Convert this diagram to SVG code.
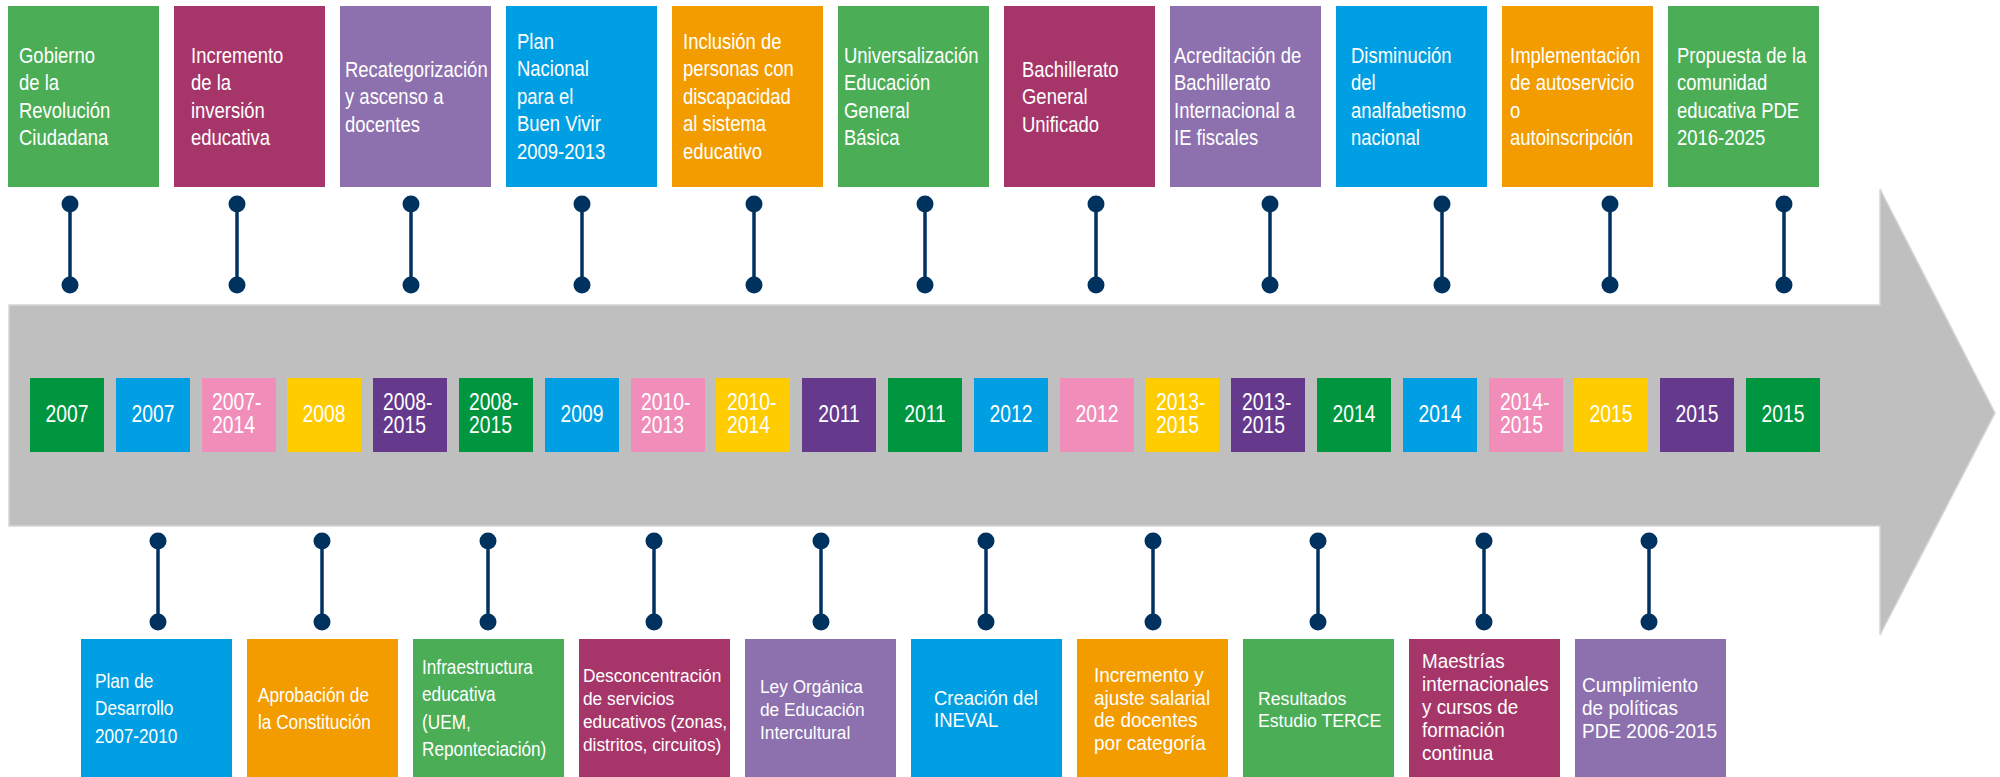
<svg xmlns="http://www.w3.org/2000/svg" width="2000" height="777" viewBox="0 0 2000 777">
<style>
.bg{fill:#ffffff}
.gr{fill:#4bae57}.ma{fill:#a6366a}.la{fill:#8d70ae}.bl{fill:#009fe3}.or{fill:#f39c00}
.yg{fill:#009640}.yb{fill:#009fe3}.yp{fill:#f08eb9}.yy{fill:#ffcc00}.yv{fill:#653a8d}
text{font-family:"Liberation Sans",Arial,sans-serif;fill:#ffffff}
.t{font-size:22px}
.y{font-size:23px}
.yc{font-size:23px;text-anchor:middle}
.b{font-size:21px}
.conn line{stroke:#00325f;stroke-width:3.5}
.conn circle{fill:#00325f}
</style>
<rect class="bg" x="0" y="0" width="2000" height="777"/>
<path id="timeline-arrow" d="M9,305 H1880 V189 L1995,413 L1880,635 V526 H9 Z" fill="#bfbfbf" stroke="#d6d6d6" stroke-width="1.5"/>

<g id="connectors" class="conn">
<line x1="70" y1="204" x2="70" y2="285"/><circle cx="70" cy="204" r="8.5"/><circle cx="70" cy="285" r="8.5"/>
<line x1="237" y1="204" x2="237" y2="285"/><circle cx="237" cy="204" r="8.5"/><circle cx="237" cy="285" r="8.5"/>
<line x1="411" y1="204" x2="411" y2="285"/><circle cx="411" cy="204" r="8.5"/><circle cx="411" cy="285" r="8.5"/>
<line x1="582" y1="204" x2="582" y2="285"/><circle cx="582" cy="204" r="8.5"/><circle cx="582" cy="285" r="8.5"/>
<line x1="754" y1="204" x2="754" y2="285"/><circle cx="754" cy="204" r="8.5"/><circle cx="754" cy="285" r="8.5"/>
<line x1="925" y1="204" x2="925" y2="285"/><circle cx="925" cy="204" r="8.5"/><circle cx="925" cy="285" r="8.5"/>
<line x1="1096" y1="204" x2="1096" y2="285"/><circle cx="1096" cy="204" r="8.5"/><circle cx="1096" cy="285" r="8.5"/>
<line x1="1270" y1="204" x2="1270" y2="285"/><circle cx="1270" cy="204" r="8.5"/><circle cx="1270" cy="285" r="8.5"/>
<line x1="1442" y1="204" x2="1442" y2="285"/><circle cx="1442" cy="204" r="8.5"/><circle cx="1442" cy="285" r="8.5"/>
<line x1="1610" y1="204" x2="1610" y2="285"/><circle cx="1610" cy="204" r="8.5"/><circle cx="1610" cy="285" r="8.5"/>
<line x1="1784" y1="204" x2="1784" y2="285"/><circle cx="1784" cy="204" r="8.5"/><circle cx="1784" cy="285" r="8.5"/>

<line x1="158" y1="541" x2="158" y2="622"/><circle cx="158" cy="541" r="8.5"/><circle cx="158" cy="622" r="8.5"/>
<line x1="322" y1="541" x2="322" y2="622"/><circle cx="322" cy="541" r="8.5"/><circle cx="322" cy="622" r="8.5"/>
<line x1="488" y1="541" x2="488" y2="622"/><circle cx="488" cy="541" r="8.5"/><circle cx="488" cy="622" r="8.5"/>
<line x1="654" y1="541" x2="654" y2="622"/><circle cx="654" cy="541" r="8.5"/><circle cx="654" cy="622" r="8.5"/>
<line x1="821" y1="541" x2="821" y2="622"/><circle cx="821" cy="541" r="8.5"/><circle cx="821" cy="622" r="8.5"/>
<line x1="986" y1="541" x2="986" y2="622"/><circle cx="986" cy="541" r="8.5"/><circle cx="986" cy="622" r="8.5"/>
<line x1="1153" y1="541" x2="1153" y2="622"/><circle cx="1153" cy="541" r="8.5"/><circle cx="1153" cy="622" r="8.5"/>
<line x1="1318" y1="541" x2="1318" y2="622"/><circle cx="1318" cy="541" r="8.5"/><circle cx="1318" cy="622" r="8.5"/>
<line x1="1484" y1="541" x2="1484" y2="622"/><circle cx="1484" cy="541" r="8.5"/><circle cx="1484" cy="622" r="8.5"/>
<line x1="1649" y1="541" x2="1649" y2="622"/><circle cx="1649" cy="541" r="8.5"/><circle cx="1649" cy="622" r="8.5"/>
</g>

<!-- top event boxes -->
<g id="top-gobierno"><rect class="gr" x="8" y="6" width="151" height="181"/>
<text class="t" transform="matrix(0.84 0 0 1 19 0)" y="63"><tspan x="0">Gobierno</tspan><tspan x="0" dy="27.5">de la</tspan><tspan x="0" dy="27.5">Revolución</tspan><tspan x="0" dy="27.5">Ciudadana</tspan></text></g>
<g id="top-incremento"><rect class="ma" x="174" y="6" width="151" height="181"/>
<text class="t" transform="matrix(0.84 0 0 1 191 0)" y="63"><tspan x="0">Incremento</tspan><tspan x="0" dy="27.5">de la</tspan><tspan x="0" dy="27.5">inversión</tspan><tspan x="0" dy="27.5">educativa</tspan></text></g>
<g id="top-recategorizacion"><rect class="la" x="340" y="6" width="151" height="181"/>
<text class="t" transform="matrix(0.84 0 0 1 345 0)" y="77"><tspan x="0">Recategorización</tspan><tspan x="0" dy="27.5">y ascenso a</tspan><tspan x="0" dy="27.5">docentes</tspan></text></g>
<g id="top-plan-nacional"><rect class="bl" x="506" y="6" width="151" height="181"/>
<text class="t" transform="matrix(0.84 0 0 1 517 0)" y="49"><tspan x="0">Plan</tspan><tspan x="0" dy="27.5">Nacional</tspan><tspan x="0" dy="27.5">para el</tspan><tspan x="0" dy="27.5">Buen Vivir</tspan><tspan x="0" dy="27.5">2009-2013</tspan></text></g>
<g id="top-inclusion"><rect class="or" x="672" y="6" width="151" height="181"/>
<text class="t" transform="matrix(0.84 0 0 1 683 0)" y="49"><tspan x="0">Inclusión de</tspan><tspan x="0" dy="27.5">personas con</tspan><tspan x="0" dy="27.5">discapacidad</tspan><tspan x="0" dy="27.5">al sistema</tspan><tspan x="0" dy="27.5">educativo</tspan></text></g>
<g id="top-universalizacion"><rect class="gr" x="838" y="6" width="151" height="181"/>
<text class="t" transform="matrix(0.84 0 0 1 844 0)" y="63"><tspan x="0">Universalización</tspan><tspan x="0" dy="27.5">Educación</tspan><tspan x="0" dy="27.5">General</tspan><tspan x="0" dy="27.5">Básica</tspan></text></g>
<g id="top-bachillerato"><rect class="ma" x="1004" y="6" width="151" height="181"/>
<text class="t" transform="matrix(0.84 0 0 1 1022 0)" y="77"><tspan x="0">Bachillerato</tspan><tspan x="0" dy="27.5">General</tspan><tspan x="0" dy="27.5">Unificado</tspan></text></g>
<g id="top-acreditacion"><rect class="la" x="1170" y="6" width="151" height="181"/>
<text class="t" transform="matrix(0.84 0 0 1 1174 0)" y="63"><tspan x="0">Acreditación de</tspan><tspan x="0" dy="27.5">Bachillerato</tspan><tspan x="0" dy="27.5">Internacional a</tspan><tspan x="0" dy="27.5">IE fiscales</tspan></text></g>
<g id="top-disminucion"><rect class="bl" x="1336" y="6" width="151" height="181"/>
<text class="t" transform="matrix(0.84 0 0 1 1351 0)" y="63"><tspan x="0">Disminución</tspan><tspan x="0" dy="27.5">del</tspan><tspan x="0" dy="27.5">analfabetismo</tspan><tspan x="0" dy="27.5">nacional</tspan></text></g>
<g id="top-implementacion"><rect class="or" x="1502" y="6" width="151" height="181"/>
<text class="t" transform="matrix(0.84 0 0 1 1510 0)" y="63"><tspan x="0">Implementación</tspan><tspan x="0" dy="27.5">de autoservicio</tspan><tspan x="0" dy="27.5">o</tspan><tspan x="0" dy="27.5">autoinscripción</tspan></text></g>
<g id="top-propuesta"><rect class="gr" x="1668" y="6" width="151" height="181"/>
<text class="t" transform="matrix(0.84 0 0 1 1677 0)" y="63"><tspan x="0">Propuesta de la</tspan><tspan x="0" dy="27.5">comunidad</tspan><tspan x="0" dy="27.5">educativa PDE</tspan><tspan x="0" dy="27.5">2016-2025</tspan></text></g>

<!-- year boxes -->
<g id="y0"><rect class="yg" x="30" y="378" width="74" height="74"/><text class="yc" transform="matrix(0.84 0 0 1 67 0)" x="0" y="422">2007</text></g>
<g id="y1"><rect class="yb" x="116" y="378" width="74" height="74"/><text class="yc" transform="matrix(0.84 0 0 1 153 0)" x="0" y="422">2007</text></g>
<g id="y2"><rect class="yp" x="202" y="378" width="74" height="74"/><text class="y" transform="matrix(0.84 0 0 1 212 0)" y="410"><tspan x="0">2007-</tspan><tspan x="0" dy="23">2014</tspan></text></g>
<g id="y3"><rect class="yy" x="287" y="378" width="74" height="74"/><text class="yc" transform="matrix(0.84 0 0 1 324 0)" x="0" y="422">2008</text></g>
<g id="y4"><rect class="yv" x="373" y="378" width="74" height="74"/><text class="y" transform="matrix(0.84 0 0 1 383 0)" y="410"><tspan x="0">2008-</tspan><tspan x="0" dy="23">2015</tspan></text></g>
<g id="y5"><rect class="yg" x="459" y="378" width="74" height="74"/><text class="y" transform="matrix(0.84 0 0 1 469 0)" y="410"><tspan x="0">2008-</tspan><tspan x="0" dy="23">2015</tspan></text></g>
<g id="y6"><rect class="yb" x="545" y="378" width="74" height="74"/><text class="yc" transform="matrix(0.84 0 0 1 582 0)" x="0" y="422">2009</text></g>
<g id="y7"><rect class="yp" x="631" y="378" width="74" height="74"/><text class="y" transform="matrix(0.84 0 0 1 641 0)" y="410"><tspan x="0">2010-</tspan><tspan x="0" dy="23">2013</tspan></text></g>
<g id="y8"><rect class="yy" x="716" y="378" width="74" height="74"/><text class="y" transform="matrix(0.84 0 0 1 727 0)" y="410"><tspan x="0">2010-</tspan><tspan x="0" dy="23">2014</tspan></text></g>
<g id="y9"><rect class="yv" x="802" y="378" width="74" height="74"/><text class="yc" transform="matrix(0.84 0 0 1 839 0)" x="0" y="422">2011</text></g>
<g id="y10"><rect class="yg" x="888" y="378" width="74" height="74"/><text class="yc" transform="matrix(0.84 0 0 1 925 0)" x="0" y="422">2011</text></g>
<g id="y11"><rect class="yb" x="974" y="378" width="74" height="74"/><text class="yc" transform="matrix(0.84 0 0 1 1011 0)" x="0" y="422">2012</text></g>
<g id="y12"><rect class="yp" x="1060" y="378" width="74" height="74"/><text class="yc" transform="matrix(0.84 0 0 1 1097 0)" x="0" y="422">2012</text></g>
<g id="y13"><rect class="yy" x="1145" y="378" width="74" height="74"/><text class="y" transform="matrix(0.84 0 0 1 1156 0)" y="410"><tspan x="0">2013-</tspan><tspan x="0" dy="23">2015</tspan></text></g>
<g id="y14"><rect class="yv" x="1231" y="378" width="74" height="74"/><text class="y" transform="matrix(0.84 0 0 1 1242 0)" y="410"><tspan x="0">2013-</tspan><tspan x="0" dy="23">2015</tspan></text></g>
<g id="y15"><rect class="yg" x="1317" y="378" width="74" height="74"/><text class="yc" transform="matrix(0.84 0 0 1 1354 0)" x="0" y="422">2014</text></g>
<g id="y16"><rect class="yb" x="1403" y="378" width="74" height="74"/><text class="yc" transform="matrix(0.84 0 0 1 1440 0)" x="0" y="422">2014</text></g>
<g id="y17"><rect class="yp" x="1489" y="378" width="74" height="74"/><text class="y" transform="matrix(0.84 0 0 1 1500 0)" y="410"><tspan x="0">2014-</tspan><tspan x="0" dy="23">2015</tspan></text></g>
<g id="y18"><rect class="yy" x="1574" y="378" width="74" height="74"/><text class="yc" transform="matrix(0.84 0 0 1 1611 0)" x="0" y="422">2015</text></g>
<g id="y19"><rect class="yv" x="1660" y="378" width="74" height="74"/><text class="yc" transform="matrix(0.84 0 0 1 1697 0)" x="0" y="422">2015</text></g>
<g id="y20"><rect class="yg" x="1746" y="378" width="74" height="74"/><text class="yc" transform="matrix(0.84 0 0 1 1783 0)" x="0" y="422">2015</text></g>

<!-- bottom event boxes -->
<g id="bot-plan-desarrollo"><rect class="bl" x="81" y="639" width="151" height="140"/>
<text class="b" transform="matrix(0.82 0 0 1 95 0)" y="688"><tspan x="0">Plan de</tspan><tspan x="0" dy="27.5">Desarrollo</tspan><tspan x="0" dy="27.5">2007-2010</tspan></text></g>
<g id="bot-constitucion"><rect class="or" x="247" y="639" width="151" height="140"/>
<text class="b" transform="matrix(0.82 0 0 1 258 0)" y="702"><tspan x="0">Aprobación de</tspan><tspan x="0" dy="27.5">la Constitución</tspan></text></g>
<g id="bot-infraestructura"><rect class="gr" x="413" y="639" width="151" height="140"/>
<text class="b" transform="matrix(0.82 0 0 1 422 0)" y="674"><tspan x="0">Infraestructura</tspan><tspan x="0" dy="27.5">educativa</tspan><tspan x="0" dy="27.5">(UEM,</tspan><tspan x="0" dy="27.5">Reponteciación)</tspan></text></g>
<g id="bot-desconcentracion"><rect class="ma" x="579" y="639" width="151" height="140"/>
<text font-size="19" transform="matrix(0.91 0 0 1 583 0)" y="682"><tspan x="0">Desconcentración</tspan><tspan x="0" dy="23">de servicios</tspan><tspan x="0" dy="23">educativos (zonas,</tspan><tspan x="0" dy="23">distritos, circuitos)</tspan></text></g>
<g id="bot-ley-organica"><rect class="la" x="745" y="639" width="151" height="140"/>
<text font-size="19" transform="matrix(0.91 0 0 1 760 0)" y="693"><tspan x="0">Ley Orgánica</tspan><tspan x="0" dy="23">de Educación</tspan><tspan x="0" dy="23">Intercultural</tspan></text></g>
<g id="bot-ineval"><rect class="bl" x="911" y="639" width="151" height="140"/>
<text font-size="20" transform="matrix(0.925 0 0 1 934 0)" y="705"><tspan x="0">Creación del</tspan><tspan x="0" dy="22">INEVAL</tspan></text></g>
<g id="bot-ajuste-salarial"><rect class="or" x="1077" y="639" width="151" height="140"/>
<text font-size="20" transform="matrix(0.95 0 0 1 1094 0)" y="682"><tspan x="0">Incremento y</tspan><tspan x="0" dy="22.7">ajuste salarial</tspan><tspan x="0" dy="22.7">de docentes</tspan><tspan x="0" dy="22.7">por categoría</tspan></text></g>
<g id="bot-terce"><rect class="gr" x="1243" y="639" width="151" height="140"/>
<text font-size="19" transform="matrix(0.93 0 0 1 1258 0)" y="705"><tspan x="0">Resultados</tspan><tspan x="0" dy="22">Estudio TERCE</tspan></text></g>
<g id="bot-maestrias"><rect class="ma" x="1409" y="639" width="151" height="140"/>
<text font-size="19.5" transform="matrix(0.965 0 0 1 1422 0)" y="668"><tspan x="0">Maestrías</tspan><tspan x="0" dy="23">internacionales</tspan><tspan x="0" dy="23">y cursos de</tspan><tspan x="0" dy="23">formación</tspan><tspan x="0" dy="23">continua</tspan></text></g>
<g id="bot-cumplimiento"><rect class="la" x="1575" y="639" width="151" height="140"/>
<text font-size="20" transform="matrix(0.95 0 0 1 1582 0)" y="692"><tspan x="0">Cumplimiento</tspan><tspan x="0" dy="23">de políticas</tspan><tspan x="0" dy="23">PDE 2006-2015</tspan></text></g>
</svg>
